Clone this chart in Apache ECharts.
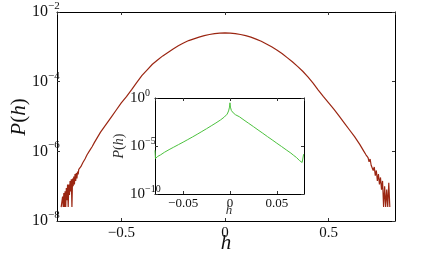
<!DOCTYPE html>
<html>
<head>
<meta charset="utf-8">
<script src="https://cdn.jsdelivr.net/npm/echarts@6/dist/echarts.min.js"></script>
<style>html,body{margin:0;padding:0;background:#fff;}#c{width:436px;height:257px;}</style>
</head>
<body>
<div id="c"></div>
<script>
// Main plot: h values and log10 P(h)
const mainH = [
  -0.790,-0.786,-0.783,-0.780,-0.777,-0.774,-0.771,-0.768,-0.765,-0.762,
  -0.759,-0.756,-0.753,-0.750,-0.747,-0.744,-0.741,-0.738,-0.735,-0.732,
  -0.729,-0.726,-0.723,-0.720,-0.717,-0.714,-0.711,-0.708,-0.705,-0.700,
  -0.695,-0.690,-0.685,-0.680,-0.675,-0.670,-0.665,-0.660,-0.655,-0.650,
  -0.640,-0.630,-0.620,-0.610,-0.600,-0.575,-0.550,-0.525,-0.500,-0.475,
  -0.450,-0.425,-0.400,-0.375,-0.350,-0.325,-0.300,-0.275,-0.250,-0.225,
  -0.200,-0.175,-0.150,-0.125,-0.100,-0.075,-0.050,-0.025,0.000,0.025,
  0.050,0.075,0.100,0.125,0.150,0.175,0.200,0.225,0.250,0.275,
  0.300,0.325,0.350,0.375,0.400,0.425,0.450,0.475,0.500,0.525,
  0.550,0.575,0.600,0.625,0.650,0.660,0.670,0.680,0.690,0.695,
  0.700,0.705,0.710,0.715,0.720,0.725,0.730,0.735,0.740,0.745,
  0.750,0.755,0.760,0.765,0.770,0.775,0.780,0.785,0.790,0.795
];
const mainLogP = [
  -7.60,-7.60,-7.30,-7.60,-7.20,-7.60,-7.15,-7.60,-7.05,-7.40,
  -6.95,-7.60,-6.95,-7.25,-6.85,-7.15,-6.80,-7.60,-6.78,-7.00,
  -6.72,-6.95,-6.65,-6.85,-6.62,-6.78,-6.58,-6.66,-6.52,-6.56,
  -6.44,-6.42,-6.32,-6.34,-6.22,-6.20,-6.10,-6.10,-6.00,-5.97,
  -5.86,-5.75,-5.65,-5.55,-5.45,-5.24,-5.03,-4.82,-4.61,-4.43,
  -4.23,-4.02,-3.82,-3.66,-3.50,-3.38,-3.26,-3.16,-3.06,-2.97,
  -2.89,-2.82,-2.77,-2.72,-2.68,-2.645,-2.62,-2.605,-2.60,-2.605,
  -2.62,-2.645,-2.68,-2.72,-2.78,-2.84,-2.92,-3.00,-3.09,-3.19,
  -3.31,-3.43,-3.56,-3.70,-3.86,-4.04,-4.24,-4.43,-4.61,-4.79,
  -4.98,-5.18,-5.38,-5.58,-5.80,-5.90,-6.00,-6.10,-6.18,-6.30,
  -6.22,-6.40,-6.35,-6.55,-6.45,-6.70,-6.55,-6.85,-6.65,-6.95,
  -6.75,-7.10,-6.85,-7.60,-7.00,-7.60,-7.10,-7.60,-6.90,-7.60
];

// Inset: h values and log10 P(h)
const insetH = [
  -0.0800,-0.0795,-0.0790,-0.0785,-0.0780,-0.0770,-0.0760,-0.0750,-0.0740,-0.0720,
  -0.0700,-0.0650,-0.0600,-0.0550,-0.0500,-0.0450,-0.0400,-0.0350,-0.0300,-0.0250,
  -0.0200,-0.0150,-0.0100,-0.0060,-0.0030,-0.0015,-0.0005,0.0000,0.0005,0.0015,
  0.0035,0.0060,0.0100,0.0150,0.0200,0.0250,0.0300,0.0350,0.0400,0.0450,
  0.0500,0.0550,0.0600,0.0650,0.0680,0.0700,0.0710,0.0720,0.0730,0.0740,
  0.0750,0.0760,0.0770,0.0775,0.0780,0.0786
];
const insetLogP = [
  -5.45,-6.30,-6.10,-6.25,-6.15,-6.08,-6.00,-5.95,-5.92,-5.78,
  -5.66,-5.38,-5.12,-4.86,-4.60,-4.33,-4.06,-3.78,-3.49,-3.20,
  -2.90,-2.60,-2.28,-1.98,-1.68,-1.35,-0.95,-0.50,-0.95,-1.30,
  -1.55,-1.75,-1.95,-2.30,-2.64,-2.98,-3.33,-3.67,-4.02,-4.36,
  -4.71,-5.05,-5.40,-5.74,-5.98,-6.05,-6.20,-6.12,-6.40,-6.50,
  -6.45,-6.62,-6.72,-6.60,-6.70,-5.85
];

// Tick labels
const mainXTicks = [-0.5, 0, 0.5];
const insetXTicks = [-0.05, 0, 0.05];

const serif = "'Liberation Serif','DejaVu Serif',serif";
const black = '#000';

function pairs(xs, ls) { return xs.map((x, i) => [x, Math.pow(10, ls[i])]); }
function fmtNum(v) { return (v < 0 ? '\u2212' : '') + String(Math.abs(+v.toFixed(4))); }
function xFormatter(ticks) {
  return function (v) {
    for (const t of ticks) if (Math.abs(v - t) < 1e-6) return fmtNum(t);
    return '';
  };
}
function powFormatter(v) {
  const e = Math.round(Math.log10(v));
  return '{b|10}{s|' + (e < 0 ? '\u2212' : '') + Math.abs(e) + '}';
}

function xAx(grid, pos, min, max, labels, fs, margin, ticks) {
  return {
    type: 'value', gridIndex: grid, position: pos, min: min, max: max, splitNumber: 3,
    axisLine: { show: true, onZero: false, lineStyle: { color: black, width: 1 } },
    axisTick: { show: true, inside: true, length: 3, lineStyle: { color: '#333', width: 1 } },
    axisLabel: {
      show: labels, margin: margin, color: '#111', fontFamily: serif, fontSize: fs,
      showMinLabel: false, showMaxLabel: false, formatter: xFormatter(ticks)
    },
    splitLine: { show: false }
  };
}
function yAx(grid, pos, min, max, base, labels, fs, sfs, margin, raise) {
  return {
    type: 'log', logBase: base, gridIndex: grid, position: pos, min: min, max: max,
    axisLine: { show: true, onZero: false, lineStyle: { color: black, width: 1 } },
    axisTick: { show: true, inside: true, length: 3, lineStyle: { color: '#333', width: 1 } },
    axisLabel: {
      show: labels, margin: margin, align: 'left', color: '#111', fontFamily: serif,
      formatter: powFormatter,
      rich: {
        b: { fontFamily: serif, fontSize: fs, color: '#111' },
        s: { fontFamily: serif, fontSize: sfs, color: '#111', lineHeight: sfs, padding: [0, 0, raise, 0] }
      }
    },
    splitLine: { show: false }
  };
}

const chart = echarts.init(document.getElementById('c'), null, { renderer: 'canvas' });
chart.setOption({
  animation: false,
  backgroundColor: '#fff',
  grid: [
    { left: 57, top: 12, width: 338, height: 209, containLabel: false },
    { left: 155, top: 98, width: 149, height: 96, containLabel: false, show: true, backgroundColor: '#fff', borderWidth: 0 }
  ],
  xAxis: [
    xAx(0, 'bottom', -0.81, 0.82, true, 15, 5, mainXTicks),
    xAx(0, 'top', -0.81, 0.82, false, 15, 5, mainXTicks),
    xAx(1, 'bottom', -0.08, 0.079, true, 13, 3, insetXTicks),
    xAx(1, 'top', -0.08, 0.079, false, 13, 3, insetXTicks)
  ],
  yAxis: [
    yAx(0, 'left', 1e-8, 1e-2, 100, true, 16, 11, 25, 12),
    yAx(0, 'right', 1e-8, 1e-2, 100, false, 16, 11, 25, 12),
    yAx(1, 'left', 1e-10, 1, 100000, true, 15, 10, 25, 10),
    yAx(1, 'right', 1e-10, 1, 100000, false, 15, 10, 25, 10)
  ],
  graphic: [
    { type: 'text', x: 19, y: 117, rotation: Math.PI / 2, z: 10,
      style: { text: '{i|P}{n|(}{i|h}{n|)}', align: 'center', verticalAlign: 'middle',
        rich: { i: { fontFamily: serif, fontStyle: 'italic', fontSize: 21, fill: '#111' },
                n: { fontFamily: serif, fontSize: 21, fill: '#111' } } } },
    { type: 'text', x: 226, y: 243, z: 10,
      style: { text: 'h', fontFamily: serif, fontStyle: 'italic', fontSize: 21, fill: '#111', align: 'center', verticalAlign: 'middle' } },
    { type: 'text', x: 119, y: 146, rotation: Math.PI / 2, z: 10,
      style: { text: '{i|P}{n|(}{i|h}{n|)}', align: 'center', verticalAlign: 'middle',
        rich: { i: { fontFamily: serif, fontStyle: 'italic', fontSize: 14, fill: '#333' },
                n: { fontFamily: serif, fontSize: 14, fill: '#333' } } } },
    { type: 'text', x: 229, y: 211, z: 10,
      style: { text: 'h', fontFamily: serif, fontStyle: 'italic', fontSize: 13, fill: '#333', align: 'center', verticalAlign: 'middle' } }
  ],
  series: [
    { type: 'line', xAxisIndex: 0, yAxisIndex: 0, data: pairs(mainH, mainLogP), showSymbol: false,
      lineStyle: { color: '#9b2612', width: 1.2 }, z: 3 },
    { type: 'line', xAxisIndex: 2, yAxisIndex: 2, data: pairs(insetH, insetLogP), showSymbol: false,
      lineStyle: { color: '#4cc23e', width: 1 }, z: 5 }
  ]
});
</script>
</body>
</html>
